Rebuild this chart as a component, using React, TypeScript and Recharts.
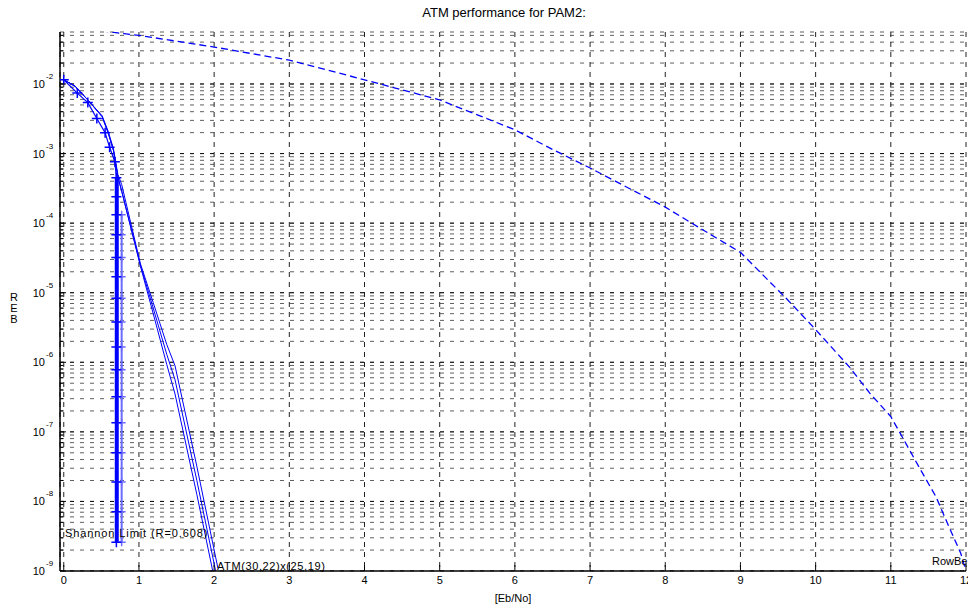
import React from 'react';
import { LineChart, Line, XAxis, YAxis, CartesianGrid, ReferenceLine } from 'recharts';

// ---------- axis ticks ----------
const xTicks = [0, 1, 2, 3, 4, 5, 6, 7, 8, 9, 10, 11, 12];
const decadeExponents = [-9, -8, -7, -6, -5, -4, -3, -2];
const minorMultipliers = [1, 2, 3, 4, 5, 6, 7, 8, 9];
const Y_MIN = 1e-9;
const Y_MAX = 0.0559;
const yTicks: number[] = [];
decadeExponents.forEach((e) => {
  minorMultipliers.forEach((m) => {
    const v = m * Math.pow(10, e);
    if (v <= Y_MAX * 1.0001) yTicks.push(v);
  });
});
const majorTicks = decadeExponents.map((e) => Math.pow(10, e));

// ---------- series ----------
// Shannon-limit curve (with + markers), ends vertical near 0.70 dB
const shannonEbNo = [0, 0.18, 0.32, 0.44, 0.55, 0.61, 0.68, 0.7, 0.7, 0.7, 0.7, 0.7, 0.7, 0.7, 0.7, 0.7, 0.7, 0.7, 0.7, 0.7, 0.7, 0.7, 0.7];
const shannonBer = [1.15e-2, 7.4e-3, 5.4e-3, 3.2e-3, 2.0e-3, 1.23e-3, 7.6e-4, 4.5e-4, 2.4e-4, 1.32e-4, 6.8e-5, 3.2e-5, 1.7e-5, 8.3e-6, 3.8e-6, 1.66e-6, 7.8e-7, 3.2e-7, 1.35e-7, 5.0e-8, 1.9e-8, 7.1e-9, 2.6e-9];

// bundle of vertical limit curves (thick)
const bundleEbNo = [0.705, 0.705];
const bundleBer = [4.5e-4, 2.6e-9];

// second (lighter) vertical limit curve
const lightEbNo = [0.77, 0.77, 0.77, 0.77, 0.77, 0.77, 0.77, 0.77, 0.77, 0.77, 0.77, 0.77, 0.77, 0.77];
const lightBer = [1.32e-4, 6.8e-5, 3.2e-5, 1.7e-5, 8.3e-6, 3.8e-6, 1.66e-6, 7.8e-7, 3.2e-7, 1.35e-7, 5.0e-8, 1.9e-8, 7.1e-9, 2.6e-9];

// ATM(30,22)x(25,19) curves
const atmEbNo = [0, 0.15, 0.32, 0.51, 0.59, 0.66, 0.72, 0.77, 1.02, 1.19, 1.37, 1.48, 1.77, 2.05];
const atmBer1 = [1.15e-2, 9.3e-3, 5.9e-3, 3.4e-3, 2.0e-3, 1.12e-3, 4.6e-4, 2.9e-4, 2.4e-5, 5.0e-6, 9.3e-7, 3.5e-7, 1.26e-8, 4.4e-10];
const atmBer2 = [1.15e-2, 9.3e-3, 5.9e-3, 3.4e-3, 2.0e-3, 1.12e-3, 4.6e-4, 2.9e-4, 2.5e-5, 6.0e-6, 1.3e-6, 5.6e-7, 2.0e-8, 7.0e-10];
const atmBer3 = [1.15e-2, 9.3e-3, 5.9e-3, 3.5e-3, 2.1e-3, 1.18e-3, 5.0e-4, 3.6e-4, 2.6e-5, 7.2e-6, 1.8e-6, 8.9e-7, 3.2e-8, 1.1e-9];

// Row-based curve (dashed)
const rowEbNo = [0.5, 0.8, 1, 2, 3, 4, 5, 6, 6.5, 7, 8, 8.46, 9, 9.6, 10, 10.46, 10.72, 11, 11.4, 11.6, 11.77, 11.93, 12];
const rowBer = [5.8e-2, 5.3e-2, 5.0e-2, 3.4e-2, 2.2e-2, 1.15e-2, 5.9e-3, 2.2e-3, 1.15e-3, 6.2e-4, 1.7e-4, 8.5e-5, 3.8e-5, 8.5e-6, 2.95e-6, 8.3e-7, 3.6e-7, 1.66e-7, 2.8e-8, 1.17e-8, 4.4e-9, 1.8e-9, 1.0e-9];

const zip = (xs: number[], ys: number[]) => xs.map((x, i) => ({ x, ber: ys[i] }));
const shannonData = zip(shannonEbNo, shannonBer);
const bundleData = zip(bundleEbNo, bundleBer);
const lightData = zip(lightEbNo, lightBer);
const atm1Data = zip(atmEbNo, atmBer1);
const atm2Data = zip(atmEbNo, atmBer2);
const atm3Data = zip(atmEbNo, atmBer3);
const rowData = zip(rowEbNo, rowBer);

const FONT = '"Liberation Sans", Arial, Helvetica, sans-serif';
const BLUE = '#0000ff';

const isMajor = (v: number) => {
  const l = Math.log10(v);
  return Math.abs(l - Math.round(l)) < 1e-6;
};

const LeftTick = (props: any) => {
  const { x, y, payload } = props;
  const v = payload.value as number;
  const major = isMajor(v);
  const e = Math.round(Math.log10(v));
  return (
    <g>
      <line x1={x} x2={x + (major ? 6 : 3)} y1={y} y2={y} stroke="#000" strokeWidth={1} />
      {major && (
        <g fontFamily={FONT} fill="#000">
          <text x={x - 15} y={y + 4} textAnchor="end" fontSize={11}>10</text>
          <text x={x - 14} y={y - 5} textAnchor="start" fontSize={8}>{String(e)}</text>
        </g>
      )}
    </g>
  );
};

const RightTick = (props: any) => {
  const { x, y, payload } = props;
  const major = isMajor(payload.value as number);
  return <line x1={x} x2={x - (major ? 6 : 3)} y1={y} y2={y} stroke="#000" strokeWidth={1} />;
};

const BottomTick = (props: any) => {
  const { x, y, payload } = props;
  return (
    <g>
      <line x1={x} x2={x} y1={y} y2={y - 6} stroke="#000" strokeWidth={1} />
      <text x={x} y={y + 13} textAnchor="middle" fontSize={11} fontFamily={FONT} fill="#000">
        {String(payload.value)}
      </text>
    </g>
  );
};

const TopTick = (props: any) => {
  const { x, y } = props;
  return <line x1={x} x2={x} y1={y} y2={y + 6} stroke="#000" strokeWidth={1} />;
};

const plus = (color: string, size: number, w: number) => (props: any) => {
  const { cx, cy, index } = props;
  if (cx == null || cy == null || isNaN(cx) || isNaN(cy)) return <g key={`e-${index}`} />;
  return (
    <path
      key={`p-${index}`}
      d={`M${cx - size},${cy}H${cx + size}M${cx},${cy - size}V${cy + size}`}
      stroke={color}
      strokeWidth={w}
      fill="none"
    />
  );
};

export default function App() {
  return (
    <div style={{ position: 'absolute', left: 0, top: 0, width: 968, height: 609, background: '#fff' }}>
      <LineChart width={968} height={609} margin={{ top: 32, right: 2, bottom: 0, left: 0 }}>
        <CartesianGrid horizontal={true} vertical={false} stroke="#606060" strokeDasharray="4 6" />
        <CartesianGrid horizontal={false} vertical={true} stroke="#222" strokeDasharray="5 5" />
        {majorTicks.map((v) => (
          <ReferenceLine key={`maj-${v}`} y={v} stroke="#111" strokeDasharray="4 6" ifOverflow="hidden" />
        ))}
        <XAxis
          dataKey="x"
          type="number"
          domain={[-0.05, 12]}
          ticks={xTicks}
          allowDataOverflow
          height={38}
          tickSize={0}
          tickMargin={0}
          tickLine={false}
          tick={<BottomTick />}
          axisLine={{ stroke: '#000', strokeWidth: 1.5 }}
          interval={0}
        />
        <XAxis
          xAxisId="t"
          orientation="top"
          dataKey="x"
          type="number"
          domain={[-0.05, 12]}
          ticks={xTicks}
          allowDataOverflow
          height={0}
          tickSize={0}
          tickMargin={0}
          tickLine={false}
          tick={<TopTick />}
          axisLine={{ stroke: '#000', strokeWidth: 1.5 }}
          interval={0}
        />
        <YAxis
          type="number"
          scale="log"
          domain={[Y_MIN, Y_MAX]}
          ticks={yTicks}
          allowDataOverflow
          width={60}
          tickSize={0}
          tickMargin={0}
          tickLine={false}
          tick={<LeftTick />}
          axisLine={{ stroke: '#000', strokeWidth: 1.5 }}
          interval={0}
        />
        <YAxis
          yAxisId="r"
          orientation="right"
          type="number"
          scale="log"
          domain={[Y_MIN, Y_MAX]}
          ticks={yTicks}
          allowDataOverflow
          width={0}
          tickSize={0}
          tickMargin={0}
          tickLine={false}
          tick={<RightTick />}
          axisLine={{ stroke: '#000', strokeWidth: 1.5 }}
          interval={0}
        />
        <Line
          xAxisId="t"
          yAxisId="r"
          data={rowData}
          dataKey="ber"
          stroke="none"
          dot={false}
          activeDot={false}
          isAnimationActive={false}
        />
        <Line data={rowData} dataKey="ber" stroke={BLUE} strokeWidth={1.3} strokeDasharray="7 4" dot={false} activeDot={false} isAnimationActive={false} />
        <Line data={atm1Data} dataKey="ber" stroke={BLUE} strokeWidth={1} dot={false} activeDot={false} isAnimationActive={false} />
        <Line data={atm2Data} dataKey="ber" stroke={BLUE} strokeWidth={1} dot={false} activeDot={false} isAnimationActive={false} />
        <Line data={atm3Data} dataKey="ber" stroke={BLUE} strokeWidth={1} dot={false} activeDot={false} isAnimationActive={false} />
        <Line data={lightData} dataKey="ber" stroke="#6b6bff" strokeWidth={2} dot={plus('#6b6bff', 4, 1.5)} activeDot={false} isAnimationActive={false} />
        <Line data={bundleData} dataKey="ber" stroke={BLUE} strokeWidth={4} dot={false} activeDot={false} isAnimationActive={false} />
        <Line data={shannonData} dataKey="ber" stroke={BLUE} strokeWidth={1.2} dot={plus(BLUE, 5, 1.5)} activeDot={false} isAnimationActive={false} />
      </LineChart>
      <svg width={968} height={609} style={{ position: 'absolute', left: 0, top: 0, pointerEvents: 'none' }}>
        <g fontFamily={FONT} fill="#000">
          <text x={504} y={17} textAnchor="middle" fontSize={13}>ATM performance for PAM2:</text>
          <text x={513} y={602} textAnchor="middle" fontSize={11}>[Eb/No]</text>
          <text x={14} y={301} textAnchor="middle" fontSize={11}>R</text>
          <text x={14} y={312} textAnchor="middle" fontSize={11}>E</text>
          <text x={14} y={323} textAnchor="middle" fontSize={11}>B</text>
          <text x={65} y={537} fontSize={11} letterSpacing={0.9}>Shannon Limit  (R=0.608)</text>
          <text x={217} y={570} fontSize={11} letterSpacing={0.6}>ATM(30,22)x(25,19)</text>
          <text x={932} y={565} fontSize={11}>RowBe</text>
        </g>
      </svg>
    </div>
  );
}
